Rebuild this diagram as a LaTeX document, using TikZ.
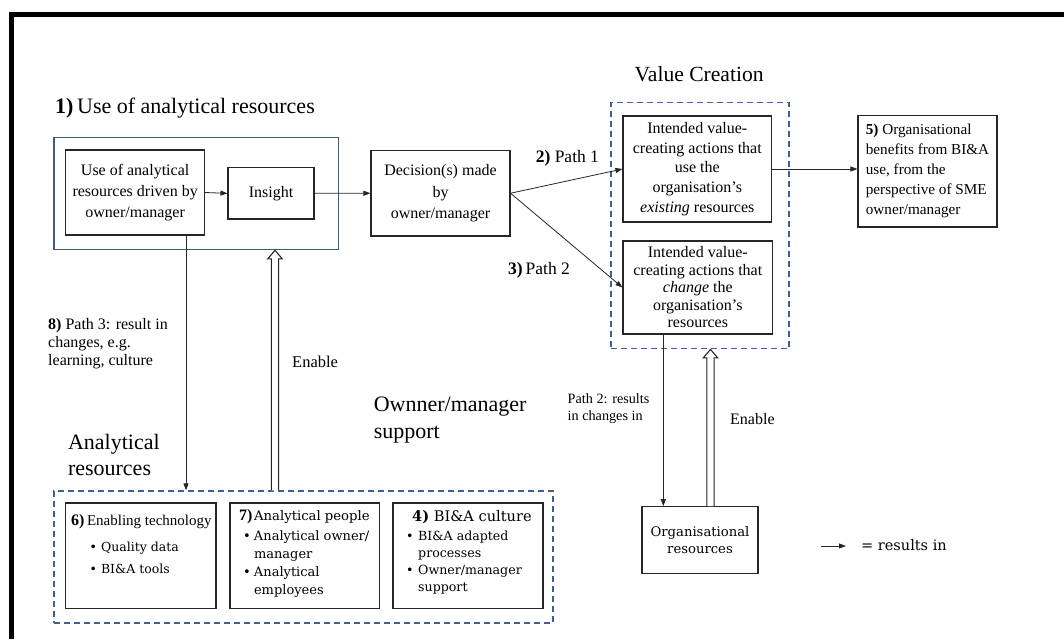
\documentclass[tikz,border=0pt]{standalone}
\usepackage{fontspec}
\setmainfont{Liberation Serif}
\newfontfamily\bkf{DejaVu Serif}
\usetikzlibrary{arrows.meta,calc}
\definecolor{solidblue}{HTML}{3D5A8A}
\definecolor{dashblue}{HTML}{3F5F99}
\newcommand\fsz[2]{\fontsize{#1}{#2}\selectfont}
\newcommand\apos{{\char"27}}
\begin{document}
\begin{tikzpicture}[x=1pt,y=-1pt,
  box/.style={draw=black!85, line width=1.1pt, inner sep=0pt, align=center},
  grp/.style={draw=solidblue, line width=1.2pt, inner sep=0pt},
  dgrp/.style={draw=dashblue, line width=1.3pt, dash pattern=on 6pt off 4pt, inner sep=0pt},
  conn/.style={line width=0.8pt, draw=black!85, -{Triangle[length=7pt,width=5pt]}},
  hollow/.style={line width=1.1pt, draw=black!85, fill=white, line join=miter},
  lbl/.style={inner sep=0pt}]
\useasboundingbox (0,0) rectangle (1064,639);
\fill[white] (0,0) rectangle (1064,639);
\draw[line width=5pt, line join=miter] (11.5,639) -- (11.5,14.5) -- (1064,14.5);

% groups
\node[grp, minimum width=284.5pt, minimum height=112pt] (g1) at (196.25,193.7) {};
\node[dgrp, minimum width=178pt, minimum height=246pt] (vc) at (700,225.75) {};
\node[dgrp, minimum width=499pt, minimum height=132pt] (ar) at (303.5,557) {};

% boxes
\node[box, minimum width=138.7pt, minimum height=85pt, font=\fsz{16}{21}] (u1) at (135.15,192.5) {Use of analytical\\resources driven by\\owner/manager};
\node[box, minimum width=86pt, minimum height=51.3pt, font=\fsz{16}{21}] (ins) at (271,193.35) {Insight};
\node[box, minimum width=139pt, minimum height=85.5pt, font=\fsz{16}{21.5}] (dec) at (440.5,193.25) {Decision(s) made\\by\\owner/manager};
\node[box, minimum width=148.6pt, minimum height=106pt, font=\fsz{16}{19.6}] (va) at (697.3,169) {Intended value-\\creating actions that\\use the\\organisation\apos s\\\textit{existing} resources};
\node[box, minimum width=149.6pt, minimum height=93pt, font=\fsz{16}{17.5}] (vb) at (697.8,287.5) {Intended value-\\creating actions that\\\textit{change} the\\organisation\apos s\\resources};
\node[box, minimum width=139pt, minimum height=111.5pt, font=\fsz{15.2}{20}, align=left] (ben) at (927.5,171.25) {\textbf{5)} Organisational\\benefits from BI\&A\\use, from the\\perspective of SME\\owner/manager};
\node[box, minimum width=116pt, minimum height=66.6pt, font=\bkf\fsz{13.2}{17.3}] (org) at (700,540) {Organisational\\resources};
\node[box, minimum width=150.2pt, minimum height=105.6pt] (b6) at (140.9,555.8) {};
\node[box, minimum width=149.5pt, minimum height=105.6pt] (b7) at (304.75,555.8) {};
\node[box, minimum width=150pt, minimum height=105.6pt] (b4) at (468,555.8) {};

% box contents
\node[lbl, anchor=base west, font=\fsz{15}{18}] (t6) at (71,525) {{\fsz{16}{18}\textbf{6)}}\,Enabling technology};
\node[lbl, anchor=north west, font=\bkf\fsz{12.5}{22}, align=left] (t6b) at (89.5,541.5) {\textbullet\ Quality data\\\textbullet\ BI\&A tools};
\node[lbl, anchor=base west] (t7) at (239,520) {{\fsz{16}{18}\textbf{7)}}\,{\bkf\fsz{13.2}{15}Analytical people}};
\node[lbl, anchor=north west, font=\bkf\fsz{13}{18}, align=left] (t7b) at (243,530.3) {\makebox[10.8pt][l]{\textbullet}Analytical owner/\\\hspace*{10.8pt}manager\\\makebox[10.8pt][l]{\textbullet}Analytical\\\hspace*{10.8pt}employees};
\node[lbl, anchor=base west, font=\bkf\fsz{14.6}{16}] (t4) at (412,521.5) {\textbf{4)} BI\&A culture};
\node[lbl, anchor=north west, font=\bkf\fsz{12.6}{17}, align=left] (t4b) at (406,530.5) {\makebox[12pt][l]{\textbullet}BI\&A adapted\\\hspace*{12pt}processes\\\makebox[12pt][l]{\textbullet}Owner/manager\\\hspace*{12pt}support};

% labels
\node[lbl, anchor=base west, font=\fsz{22}{26}] (h1) at (55,114) {\textbf{1)}\,Use of analytical resources};
\node[lbl, anchor=base west, font=\fsz{21.6}{26}] (hvc) at (634.5,82) {Value Creation};
\node[lbl, anchor=base west, font=\fsz{17.5}{20}] (p1) at (535.6,163) {\textbf{2)} Path 1};
\node[lbl, anchor=base west, font=\fsz{17.5}{20}] (p2) at (508,274) {\textbf{3)}\,Path 2};
\node[lbl, anchor=north west, font=\fsz{16}{18}, align=left] (p3) at (48,318) {\textbf{8)} Path 3: result in\\changes, e.g.\\learning, culture};
\node[lbl, anchor=base west, font=\fsz{16.5}{20}] (en1) at (292,367) {Enable};
\node[lbl, anchor=north west, font=\fsz{22}{26.8}, align=left] (oms) at (373.6,397) {Ownner/manager\\support};
\node[lbl, anchor=north west, font=\fsz{22}{26}, align=left] (arl) at (67.8,434) {Analytical\\resources};
\node[lbl, anchor=north west, font=\fsz{14.2}{17.6}, align=left] (p2r) at (567.5,393.3) {Path 2: results\\in changes in};
\node[lbl, anchor=base west, font=\fsz{16}{20}] (en2) at (730,424) {Enable};

% connectors
\draw[conn] (u1.east) -- (ins.west);
\draw[conn] (ins.east) -- (dec.west);
\draw[conn] (dec.east) -- (va.west);
\draw[conn] (dec.east) -- (vb.west);
\draw[conn] (va.east) -- (va.east -| ben.west);
\draw[conn] (186,0 |- u1.south) -- (186,0 |- ar.north);
\draw[conn] (663.3,0 |- vb.south) -- (663.3,0 |- org.north);

\coordinate (h1b) at (275,0 |- ar.north);
\coordinate (h1t) at (275,0 |- g1.south);
\draw[hollow] ($(h1b)+(-3.6,0)$) -- ($(h1t)+(-3.6,8.5)$) -- ($(h1t)+(-7.2,8.5)$) -- (h1t) -- ($(h1t)+(7.2,8.5)$) -- ($(h1t)+(3.6,8.5)$) -- ($(h1b)+(3.6,0)$);
\coordinate (h2b) at (710.5,0 |- org.north);
\coordinate (h2t) at (710.5,0 |- vc.south);
\draw[hollow] ($(h2b)+(-3.6,0)$) -- ($(h2t)+(-3.6,8.5)$) -- ($(h2t)+(-7.2,8.5)$) -- (h2t) -- ($(h2t)+(7.2,8.5)$) -- ($(h2t)+(3.6,8.5)$) -- ($(h2b)+(3.6,0)$);

% legend
\coordinate (lg1) at (821,546);
\coordinate (lg2) at (846,546);
\draw[conn] (lg1) -- (lg2);
\node[lbl, anchor=base west, font=\bkf\fsz{14.5}{16}] (lgt) at (861,550.7) {= results in};
\end{tikzpicture}
\end{document}
